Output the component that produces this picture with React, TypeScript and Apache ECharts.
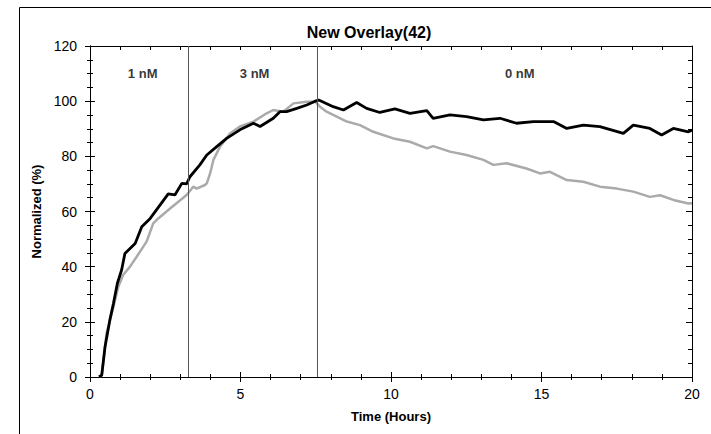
import React, { useEffect, useRef } from "react";
import * as echarts from "echarts";

const blackSeries: [number, number][] = [
  [0.3, 0], [0.39, 0.7], [0.5, 11], [0.66, 20.7], [0.78, 26.7], [0.91, 34], [1.05, 38.8],
  [1.16, 44.8], [1.33, 46.6], [1.5, 48.4], [1.72, 54.5], [2.0, 57.5], [2.33, 62.4],
  [2.6, 66.4], [2.82, 66], [3.05, 70.2], [3.21, 70], [3.32, 72.6], [3.65, 76.9],
  [3.88, 80.5], [4.21, 83.5], [4.54, 86.5], [4.98, 89.6], [5.43, 92], [5.65, 90.8],
  [6.09, 93.8], [6.31, 96.2], [6.53, 96.2], [6.87, 97.4], [7.2, 98.6], [7.48, 100],
  [7.6, 100.4], [8.08, 98], [8.42, 96.8], [8.86, 99.5], [9.19, 97.4], [9.63, 95.9],
  [10.13, 97.2], [10.63, 95.6], [11.19, 96.6], [11.4, 93.8], [11.96, 95], [12.51, 94.4],
  [13.07, 93.2], [13.62, 93.8], [14.17, 92], [14.73, 92.6], [15.4, 92.6], [15.84, 90.1],
  [16.39, 91.3], [16.94, 90.8], [17.72, 88.3], [18.05, 91.3], [18.6, 90.1], [18.99, 87.7],
  [19.38, 90.1], [19.88, 88.9], [20, 89.5],
];

const graySeries: [number, number][] = [
  [0.3, 0], [0.39, 0.5], [0.55, 15.8], [0.78, 25.5], [0.94, 32.7], [1.1, 37], [1.33, 40],
  [1.55, 43.6], [1.88, 49.1], [2.1, 55.7], [2.21, 56.9], [2.66, 61.1], [3.21, 66],
  [3.43, 69], [3.54, 68.3], [3.82, 69.6], [3.88, 70.2], [3.99, 73.8], [4.1, 78.7],
  [4.32, 83.5], [4.65, 88.3], [4.98, 90.8], [5.43, 92.6], [5.87, 95.6], [6.09, 96.8],
  [6.42, 96.2], [6.76, 99.2], [7.2, 99.8], [7.48, 99.8], [7.64, 98], [7.86, 96.2],
  [8.08, 95], [8.53, 92.6], [8.97, 91.3], [9.41, 88.9], [10.08, 86.5], [10.63, 85.3],
  [11.19, 82.9], [11.4, 83.7], [11.96, 81.7], [12.51, 80.5], [13.07, 78.7], [13.4, 76.9],
  [13.84, 77.5], [14.5, 75.6], [14.95, 73.8], [15.28, 74.4], [15.84, 71.4], [16.39, 70.8],
  [16.94, 69], [17.5, 68.3], [18.05, 67.2], [18.6, 65.3], [18.94, 65.9], [19.38, 64.2],
  [19.88, 62.9], [20, 63],
];

const phaseLines: number[] = [3.27, 7.56];
const phaseLabels: string[] = ["1 nM", "3 nM", "0 nM"];
const phaseLabelX: number[] = [1.75, 5.47, 14.28];
const phaseLabelY = 110;

const FONT = "'Liberation Sans', Arial, sans-serif";

export default function App() {
  const ref = useRef<HTMLDivElement>(null);
  useEffect(() => {
    if (!ref.current) return;
    const chart = echarts.init(ref.current, null, { renderer: "svg" });
    const xBase = { type: "value", min: 0, max: 20, interval: 5, splitLine: { show: false } };
    const yBase = { type: "value", min: 0, max: 120, interval: 20, splitLine: { show: false } };
    const line = { show: true, lineStyle: { color: "#000", width: 1 } };
    chart.setOption({
      animation: false,
      backgroundColor: "#fff",
      title: {
        text: "New Overlay(42)",
        left: 364,
        textAlign: "center",
        top: 19,
        textStyle: { fontFamily: FONT, fontSize: 16, fontWeight: "bold", color: "#000" },
      },
      graphic: [
        {
          type: "rect",
          shape: { x: 19.5, y: 7.5, width: 900, height: 600 },
          style: { fill: "none", stroke: "#000", lineWidth: 1 },
          silent: true,
        },
      ],
      grid: { left: 90, top: 46, right: 19, bottom: 57 },
      xAxis: [
        {
          ...xBase,
          position: "bottom",
          axisLine: { ...line, onZero: false },
          axisTick: { show: true, inside: false, length: 5, lineStyle: { color: "#000" } },
          minorTick: { show: true, splitNumber: 5, length: 3, lineStyle: { color: "#000" } },
          axisLabel: { fontFamily: FONT, fontSize: 14, color: "#000", margin: 10 },
          name: "Time (Hours)",
          nameLocation: "middle",
          nameGap: 33,
          nameTextStyle: { fontFamily: FONT, fontSize: 13, fontWeight: "bold", color: "#000" },
        },
        {
          ...xBase,
          position: "bottom",
          axisLine: { ...line, onZero: false },
          axisTick: { show: true, inside: true, length: 5, lineStyle: { color: "#000" } },
          minorTick: { show: true, splitNumber: 5, length: 3, lineStyle: { color: "#000" } },
          axisLabel: { show: false },
        },
        {
          ...xBase,
          position: "top",
          axisLine: { ...line, onZero: false },
          axisTick: { show: true, inside: true, length: 4, lineStyle: { color: "#000" } },
          minorTick: { show: true, splitNumber: 5, length: 4, lineStyle: { color: "#000" } },
          axisLabel: { show: false },
        },
      ],
      yAxis: [
        {
          ...yBase,
          position: "left",
          axisLine: { ...line, onZero: false },
          axisTick: { show: true, inside: false, length: 5, lineStyle: { color: "#000" } },
          minorTick: { show: true, splitNumber: 4, length: 3, lineStyle: { color: "#000" } },
          axisLabel: { fontFamily: FONT, fontSize: 14, color: "#000", margin: 13 },
          name: "Normalized (%)",
          nameLocation: "middle",
          nameRotate: 90,
          nameGap: 47,
          nameTextStyle: { fontFamily: FONT, fontSize: 13, fontWeight: "bold", color: "#000" },
        },
        {
          ...yBase,
          position: "left",
          axisLine: { ...line, onZero: false },
          axisTick: { show: true, inside: true, length: 5, lineStyle: { color: "#000" } },
          minorTick: { show: true, splitNumber: 4, length: 3, lineStyle: { color: "#000" } },
          axisLabel: { show: false },
        },
        {
          ...yBase,
          position: "right",
          axisLine: { ...line, onZero: false },
          axisTick: { show: true, inside: true, length: 6, lineStyle: { color: "#000" } },
          minorTick: { show: true, splitNumber: 4, length: 4, lineStyle: { color: "#000" } },
          axisLabel: { show: false },
        },
      ],
      series: [
        {
          type: "line",
          name: "gray",
          xAxisIndex: 0,
          yAxisIndex: 0,
          data: graySeries,
          symbol: "none",
          lineStyle: { color: "#aaaaaa", width: 2.5 },
          z: 2,
        },
        {
          type: "line",
          name: "black",
          xAxisIndex: 0,
          yAxisIndex: 0,
          data: blackSeries,
          symbol: "none",
          lineStyle: { color: "#000", width: 2.8 },
          z: 3,
          markLine: {
            silent: true,
            symbol: "none",
            label: { show: false },
            lineStyle: { color: "#555", width: 1, type: "solid" },
            data: phaseLines.map((x) => ({ xAxis: x })),
          },
        },
        {
          type: "scatter",
          xAxisIndex: 0,
          yAxisIndex: 0,
          symbolSize: 0,
          silent: true,
          data: phaseLabels.map((name, i) => ({ name, value: [phaseLabelX[i], phaseLabelY] })),
          label: {
            show: true,
            position: "inside",
            formatter: "{b}",
            fontFamily: FONT,
            fontSize: 13,
            fontWeight: "bold",
            color: "#000",
          },
        },
      ],
    });
    return () => chart.dispose();
  }, []);
  return (
    <div
      ref={ref}
      style={{ position: "fixed", left: 0, top: 0, width: 711, height: 434 }}
    />
  );
}
